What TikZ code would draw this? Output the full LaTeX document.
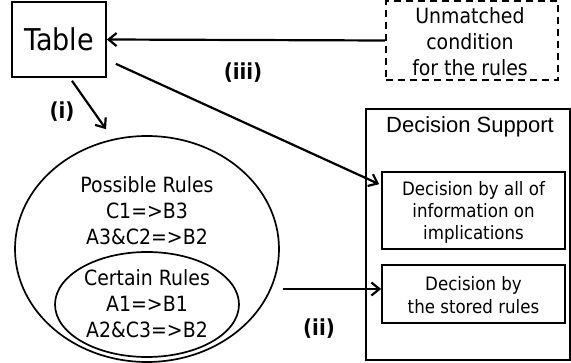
\documentclass[tikz,border=0pt]{standalone}
\usepackage{fontspec}
\setmainfont{DejaVu Sans}[FakeStretch=0.9]
\newfontfamily\titlefont{Liberation Sans}
\usepackage{tikz}
\usetikzlibrary{arrows.meta,shapes.geometric}

\tikzset{
  box/.style={draw, line width=1.7pt, rectangle, inner sep=0pt},
  dashbox/.style={draw, line width=2pt, dash pattern=on 7pt off 5pt, rectangle, inner sep=0pt},
  ring/.style={draw, line width=1.7pt, ellipse, inner sep=0pt},
  arr/.style={line width=2.2pt, -{Straight Barb[length=8pt,width=13pt,line width=2.2pt]}},
  lab/.style={font=\fontsize{22}{26}\selectfont\bfseries},
  txt/.style={align=center, inner sep=0pt}
}

\begin{document}
\begin{tikzpicture}[x=1pt, y=-1pt]
  \useasboundingbox (0,0) rectangle (571,363);
  \node[box, minimum width=94pt, minimum height=75pt, font=\fontsize{30}{34}\selectfont] (table) at (59,39.5) {Table};
  \node[dashbox, minimum width=172pt, minimum height=79pt] (unmatched) at (472,40.5) {};
  \node[txt, font=\fontsize{21}{26}\selectfont] (unmatchedtext) at (470,42) {Unmatched\\condition\\for the rules};

  \node[draw, line width=1.1pt, minimum width=204pt, minimum height=251pt, inner sep=0pt] (support) at (468,234.5) {};
  \node[txt, font=\titlefont\fontsize{22}{26}\selectfont] (supporttitle) at (470,127) {Decision Support};
  \node[box, minimum width=183pt, minimum height=77pt] (allinfo) at (473.5,210.5) {};
  \node[txt, font=\fontsize{18.5}{22}\selectfont] (allinfotext) at (473.5,212) {Decision by all of\\information on\\implications};
  \node[box, minimum width=183pt, minimum height=58pt] (stored) at (473.5,294) {};
  \node[txt, font=\fontsize{18.5}{23}\selectfont] (storedtext) at (473.5,295) {Decision by\\the stored rules};

  \node[ring, minimum width=264pt, minimum height=226pt] (possible) at (147,249) {};
  \node[txt, font=\fontsize{21}{26}\selectfont] (possibletext) at (147,211) {Possible Rules\\C1=>B3\\A3\&C2=>B2};
  \node[ring, minimum width=184pt, minimum height=105pt] (certain) at (147,304.5) {};
  \node[txt, font=\fontsize{21}{26}\selectfont] (certaintext) at (147,304) {Certain Rules\\A1=>B1\\A2\&C3=>B2};

  \draw[arr] (unmatched.west) -- (table.east);
  \draw[arr] ([xshift=9pt,yshift=14pt]table.south east) -- ([xshift=-2pt,yshift=-13pt]allinfo.north west);
  \draw[arr] ([xshift=13pt,yshift=-3pt]table.south) -- ([xshift=-41pt,yshift=6pt]possible.north);
  \draw[arr] ([xshift=3pt,yshift=5pt]possible.east |- stored.west) -- ([yshift=5pt]stored.west);

  \node[lab] (labi) at (62,112) {(i)};
  \node[lab] (labii) at (319,329) {(ii)};
  \node[lab] (labiii) at (243,73) {(iii)};
\end{tikzpicture}
\end{document}
